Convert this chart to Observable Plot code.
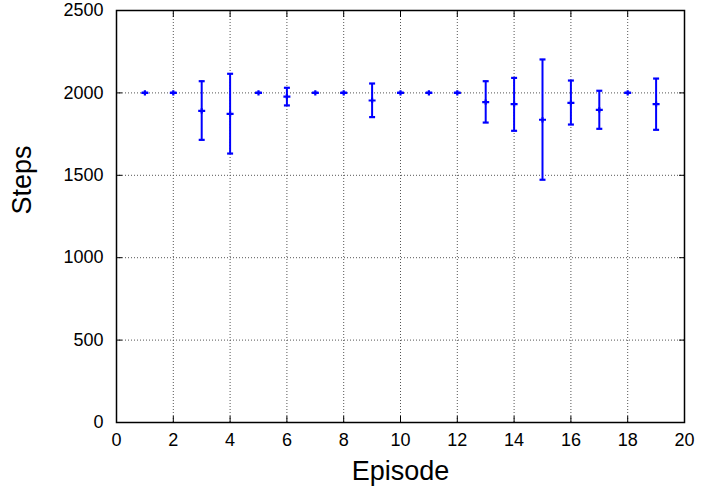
<!DOCTYPE html>
<html>
<head>
<meta charset="utf-8">
<script src="https://cdn.jsdelivr.net/npm/d3@7"></script>
<script src="https://cdn.jsdelivr.net/npm/@observablehq/plot@0.6"></script>
<style>
  html, body { margin: 0; padding: 0; background: #fff; }
</style>
</head>
<body>
<div id="chart"></div>
<script>
const episodes = [1, 2, 3, 4, 5, 6, 7, 8, 9, 10, 11, 12, 13, 14, 15, 16, 17, 18, 19];
const means = [2000, 2000, 1891, 1873, 2000, 1978, 2000, 2000, 1954, 2000, 2000, 2000, 1944, 1932, 1837, 1940, 1897, 2000, 1932];
const lows  = [2000, 2000, 1715, 1632, 2000, 1924, 2000, 2000, 1853, 2000, 2000, 2000, 1820, 1770, 1473, 1808, 1782, 2000, 1776];
const highs = [2000, 2000, 2071, 2116, 2000, 2031, 2000, 2000, 2057, 2000, 2000, 2000, 2071, 2091, 2203, 2075, 2013, 2000, 2087];
const xTicks = [0, 2, 4, 6, 8, 10, 12, 14, 16, 18, 20];
const yTicks = [0, 500, 1000, 1500, 2000, 2500];
const xTitle = "Episode";
const yTitle = "Steps";

const data = episodes.map((e, i) => ({episode: e, mean: means[i], lo: lows[i], hi: highs[i]}));

const blue = "#0000ff";
const hline = {draw(ctx, size) { const w = Math.sqrt(size / Math.PI); ctx.moveTo(-w, 0); ctx.lineTo(w, 0); }};
const plus = {draw(ctx, size) { const w = Math.sqrt(size / Math.PI); ctx.moveTo(-w, 0); ctx.lineTo(w, 0); ctx.moveTo(0, -w * 0.75); ctx.lineTo(0, w * 0.75); }};
const gridStyle = {stroke: "#555", strokeOpacity: 1, strokeWidth: 1, strokeDasharray: "1,2"};
const font = "'Liberation Sans', Arial, Helvetica, sans-serif";
const fmt = d => String(d);

const chart = Plot.plot({
  width: 701,
  height: 488,
  marginLeft: 116,
  marginRight: 17,
  marginTop: 10,
  marginBottom: 66,
  style: {fontFamily: font, background: "#fff", color: "#000"},
  x: {domain: [0, 20]},
  y: {domain: [0, 2500]},
  marks: [
    Plot.gridX(xTicks.slice(1, -1), gridStyle),
    Plot.gridY(yTicks.slice(1, -1), gridStyle),
    Plot.axisX(xTicks, {anchor: "bottom", tickSize: 6, dy: -6, fill: "none", label: null, stroke: "#000"}),
    Plot.axisX(xTicks, {anchor: "top", tickSize: 6, dy: 6, fill: "none", label: null, stroke: "#000"}),
    Plot.axisY(yTicks, {anchor: "left", tickSize: 6, dx: 6, fill: "none", label: null, stroke: "#000"}),
    Plot.axisY(yTicks, {anchor: "right", tickSize: 6, dx: -6, fill: "none", label: null, stroke: "#000"}),
    Plot.axisX(xTicks, {anchor: "bottom", tickSize: 0, tickPadding: 11, fontSize: 18, label: null, fill: "#000", tickFormat: fmt}),
    Plot.axisY(yTicks, {anchor: "left", tickSize: 0, tickPadding: 13, fontSize: 18, label: null, fill: "#000", tickFormat: fmt}),
    Plot.frame({stroke: "#000", strokeWidth: 1.5}),
    Plot.ruleX(data, {x: "episode", y1: "lo", y2: "hi", stroke: blue, strokeWidth: 2}),
    Plot.dot(data, {x: "episode", y: "lo", symbol: hline, r: 3, stroke: blue, strokeWidth: 2.2}),
    Plot.dot(data, {x: "episode", y: "hi", symbol: hline, r: 3, stroke: blue, strokeWidth: 2.2}),
    Plot.dot(data, {x: "episode", y: "mean", symbol: plus, r: 3.5, stroke: blue, strokeWidth: 2.2}),
    Plot.text([xTitle], {frameAnchor: "bottom", dy: 57, lineAnchor: "bottom", fontSize: 27, fill: "#000"}),
    Plot.text([yTitle], {frameAnchor: "left", dx: -94.5, dy: -2, rotate: -90, lineAnchor: "middle", fontSize: 27, fill: "#000"})
  ]
});
document.getElementById("chart").appendChild(chart);
</script>
</body>
</html>
